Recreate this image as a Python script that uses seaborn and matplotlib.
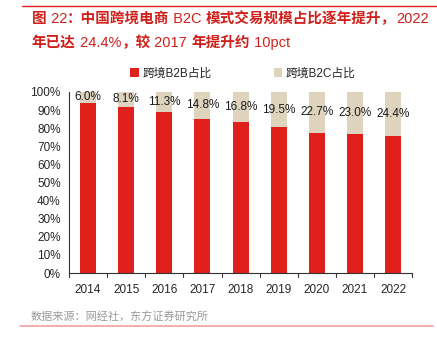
import matplotlib
matplotlib.use("Agg")
import matplotlib.pyplot as plt
import seaborn as sns
import pandas as pd
import re
from matplotlib.lines import Line2D
from matplotlib.patches import Patch

years = ["2014", "2015", "2016", "2017", "2018", "2019", "2020", "2021", "2022"]
b2c = [6.0, 8.1, 11.3, 14.8, 16.8, 19.5, 22.7, 23.0, 24.4]
b2b = [100 - v for v in b2c]
yticks = [0, 10, 20, 30, 40, 50, 60, 70, 80, 90, 100]
title1 = "图 22：中国跨境电商 B2C 模式交易规模占比逐年提升，2022"
title2 = "年已达 24.4%，较 2017 年提升约 10pct"
source = "数据来源：网经社，东方证券研究所"

sns.set_theme(style="white")
FAM = ['Liberation Sans', 'Noto Sans CJK SC', 'DejaVu Sans']
plt.rcParams['font.family'] = FAM

RED = "#E0201B"
BEIGE = "#DED4BE"

df = pd.DataFrame({"year": years, "b2b": b2b, "b2c": b2c,
                   "total": [a + b for a, b in zip(b2b, b2c)]})

fig = plt.figure(figsize=(4.37, 3.38), dpi=100)
ax = fig.add_axes([0.158, 0.192, 0.785, 0.536])

sns.barplot(data=df, x="year", y="total", color=BEIGE, width=0.42, ax=ax,
            saturation=1, edgecolor="none")
sns.barplot(data=df, x="year", y="b2b", color=RED, width=0.42, ax=ax,
            saturation=1, edgecolor="none")

for i, (a, c) in enumerate(zip(b2b, b2c)):
    ax.text(i, a + c / 2, f"{c:.1f}%", ha="center", va="center",
            fontsize=8.5, color="#1a1a1a")

ax.set_xlim(-0.5, len(years) - 0.5)
ax.set_ylim(0, 100)
ax.set_yticks(yticks)
ax.set_yticklabels([f"{v}%" for v in yticks], fontsize=8.5)
ax.set_xticks(range(len(years)))
ax.set_xticklabels(years, fontsize=8.5)
ax.tick_params(axis="x", length=0, pad=8)
ax.tick_params(axis="y", length=3, width=0.8, color="#333333", direction="out", pad=3)
ax.set_xlabel("")
ax.set_ylabel("")
for s in ["top", "right"]:
    ax.spines[s].set_visible(False)
for s in ["left", "bottom"]:
    ax.spines[s].set_color("#333333")
    ax.spines[s].set_linewidth(0.8)
for k in range(len(years) + 1):
    ax.plot([k - 0.5, k - 0.5], [0, -2.2], color="#333333", lw=0.8,
            clip_on=False, transform=ax.transData)

handles = [Patch(facecolor=RED, edgecolor="none", label="跨境B2B占比"),
           Patch(facecolor=BEIGE, edgecolor="none", label="跨境B2C占比")]
fig.legend(handles=handles, loc="center", bbox_to_anchor=(0.556, 0.782), ncol=2,
           frameon=False, fontsize=8.5, handlelength=0.7, handleheight=0.7,
           handletextpad=0.3, columnspacing=5.3)

fig.add_artist(Line2D([0.05, 1.0], [0.982, 0.982], color="#E0201B", lw=1.0))

renderer = fig.canvas.get_renderer()
W = fig.get_figwidth() * fig.dpi


def draw_mixed(text, x0, y, size, color):
    # CJK chars bold, latin/digits regular
    parts = re.findall(r"[\u3000-\u303f\u4e00-\u9fff\uff00-\uffef]+|[^\u3000-\u303f\u4e00-\u9fff\uff00-\uffef]+", text)
    x = x0
    for p in parts:
        is_cjk = bool(re.match(r"[\u3000-\u303f\u4e00-\u9fff\uff00-\uffef]", p))
        t = fig.text(x, y, p, fontsize=size, color=color,
                     fontweight="bold" if is_cjk else "normal",
                     family=['Noto Sans CJK SC'] if is_cjk else ['Liberation Sans', 'DejaVu Sans'],
                     ha="left", va="baseline")
        bb = t.get_window_extent(renderer=renderer)
        x += bb.width / W


draw_mixed(title1, 0.073, 0.933, 10.5, "#D0201B")
draw_mixed(title2, 0.073, 0.862, 10.5, "#D0201B")

fig.text(0.07, 0.062, source, fontsize=8,
         color="#9a9a9a", ha="left", va="center", family=['Noto Sans CJK SC'])
fig.add_artist(Line2D([0.046, 0.99], [0.035, 0.035], color="#F0A0A0", lw=1.2))

fig.savefig("out.png", dpi=100)
